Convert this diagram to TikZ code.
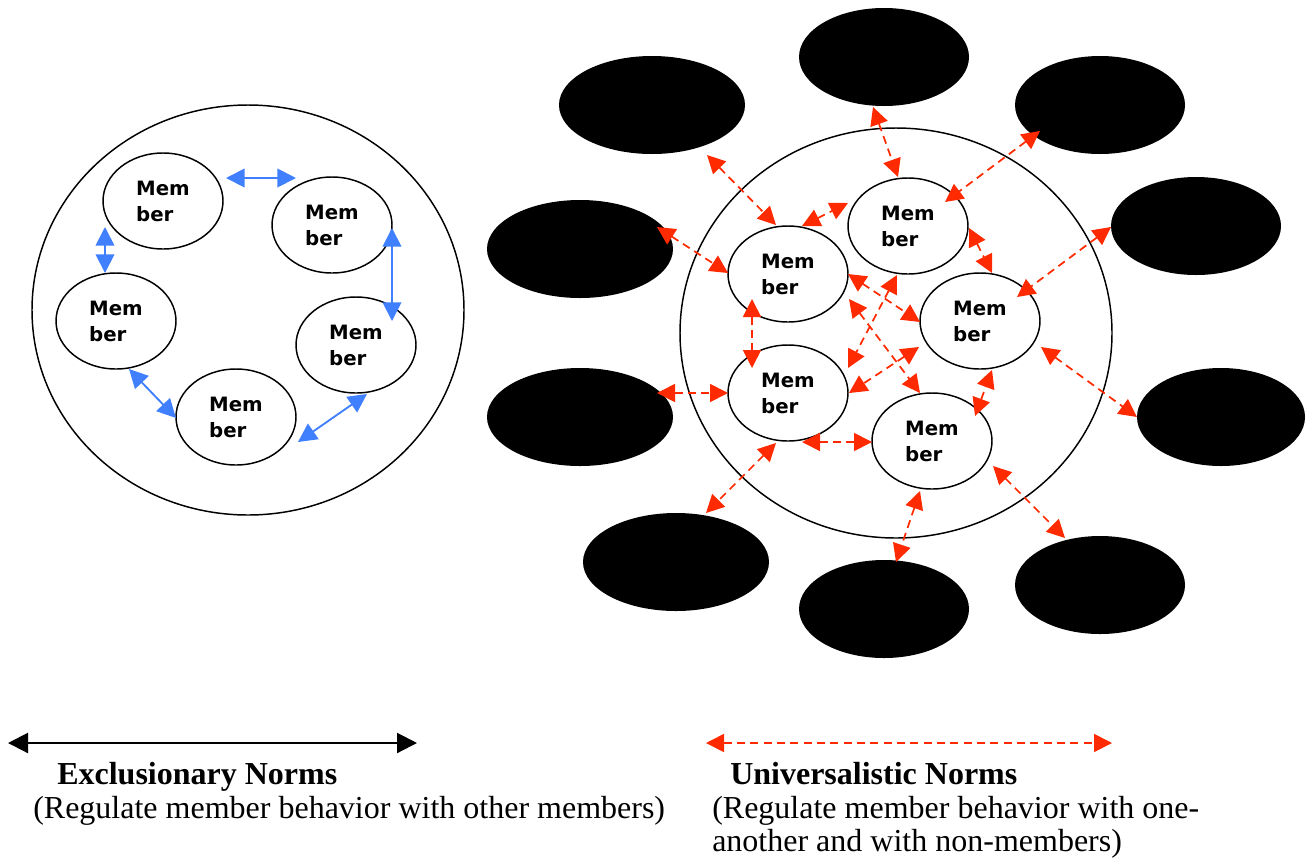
\documentclass[tikz,border=0pt]{standalone}
\usepackage{fontspec}
\setmainfont{Liberation Serif}
\newfontfamily\memfont{DejaVu Sans}
\usetikzlibrary{arrows.meta,calc,shapes.geometric}
\definecolor{arrred}{RGB}{255,42,0}
\definecolor{arrblue}{RGB}{64,128,255}
\begin{document}
\begin{tikzpicture}[x=0.75pt,y=-0.75pt,
  member/.style={ellipse,draw,line width=1.1pt,fill=white,minimum width=90pt,minimum height=72pt,
    inner sep=0pt,align=left,font=\memfont\bfseries\fontsize{14.8}{19.5}\selectfont},
  outsider/.style={ellipse,fill=black,inner sep=0pt,minimum width=#1,minimum height=73.5pt},
  groupring/.style={ellipse,draw,line width=1.1pt,minimum width=324pt,minimum height=307.5pt,inner sep=0pt},
  bluearr/.style={arrblue,line width=1.4pt,{Triangle[length=14pt,width=14pt]}-{Triangle[length=14pt,width=14pt]}},
  redarr/.style={arrred,line width=1.3pt,dash pattern=on 6pt off 4pt,{Triangle[length=13.5pt,width=13.5pt]}-{Triangle[length=13.5pt,width=13.5pt]}},
  blackarr/.style={black,line width=1.6pt,{Triangle[length=15pt,width=15pt]}-{Triangle[length=15pt,width=15pt]}},
  legtitle/.style={anchor=base west,inner sep=0pt,font=\bfseries\fontsize{24}{26}\selectfont},
  legtext/.style={anchor=base west,inner sep=0pt,font=\fontsize{24}{26}\selectfont}
]
\useasboundingbox (0,0) rectangle (1313,861);

% ---------- left group ----------
\node[groupring] (LG) at (248,310) {};
\node[member] (M1) at (163,201) {Mem\\ber};
\node[member] (M2) at (332,225) {Mem\\ber};
\node[member] (M3) at (116,321) {Mem\\ber};
\node[member] (M4) at (356,345) {Mem\\ber};
\node[member] (M5) at (236,417) {Mem\\ber};

\draw[bluearr] ($(M1)+(63,-23)$) -- ($(M2)+(-36,-47)$);
\draw[bluearr] ($(M2)+(60,3)$) -- ($(M4)+(36,-24)$);
\draw[bluearr] ($(M1)+(-58,26)$) -- ($(M3)+(-11,-48)$);
\draw[bluearr] ($(M3)+(13,48)$) -- ($(M5)+(-60,1)$);
\draw[bluearr] ($(M5)+(62,25)$) -- ($(M4)+(11,49)$);

% ---------- right group ----------
\node[groupring] (RG) at (896,333) {};
\node[outsider=139.5pt] (A) at (652,105) {};
\node[outsider=127.5pt] (T) at (884,57) {};
\node[outsider=127.5pt] (C) at (1100,105) {};
\node[outsider=139.5pt] (B) at (580,249) {};
\node[outsider=127.5pt] (D) at (1196,226) {};
\node[outsider=139.5pt] (E) at (580,417) {};
\node[outsider=126pt] (H) at (1221,417) {};
\node[outsider=139.5pt] (F) at (676,562) {};
\node[outsider=127.5pt] (G) at (884,609) {};
\node[outsider=127.5pt] (I) at (1100,585) {};

\node[member] (R1) at (788,274) {Mem\\ber};
\node[member] (R2) at (908,226) {Mem\\ber};
\node[member] (R3) at (980,321) {Mem\\ber};
\node[member] (R4) at (788,393) {Mem\\ber};
\node[member] (R5) at (932,441) {Mem\\ber};

\draw[redarr] ($(A)+(55,50)$) -- ($(R1)+(-12,-49)$);
\draw[redarr] ($(B)+(77,-22)$) -- ($(R1)+(-60,-1)$);
\draw[redarr] ($(T)+(-11,50)$) -- ($(R2)+(-10,-49)$);
\draw[redarr] ($(R1)+(14,-48)$) -- ($(R2)+(-60,-23)$);
\draw[redarr] ($(C)+(-60,26)$) -- ($(R2)+(37,-24)$);
\draw[redarr] ($(R2)+(61,2)$) -- ($(R3)+(12,-48)$);
\draw[redarr] ($(D)+(-85,1)$) -- ($(R3)+(37,-24)$);
\draw[redarr] ($(E)+(77,-24)$) -- ($(R4)+(-60,0)$);
\draw[redarr] ($(R1)+(-36,25)$) -- ($(R4)+(-36,-25)$);
\draw[redarr] ($(R1)+(60,0)$) -- ($(R3)+(-60,1)$);
\draw[redarr] ($(R2)+(-11,49)$) -- ($(R4)+(60,-25)$);
\draw[redarr] ($(R1)+(61,25)$) -- ($(R5)+(-12,-48)$);
\draw[redarr] ($(R3)+(-61,26)$) -- ($(R4)+(61,0)$);
\draw[redarr] ($(R4)+(14,49)$) -- ($(R5)+(-60,1)$);
\draw[redarr] ($(R5)+(43,-25)$) -- ($(R3)+(12,49)$);
\draw[redarr] ($(R4)+(-12,50)$) -- ($(F)+(30,-49)$);
\draw[redarr] ($(R5)+(-12,50)$) -- ($(G)+(12,-47)$);
\draw[redarr] ($(R5)+(61,25)$) -- ($(I)+(-35,-47)$);
\draw[redarr] ($(R3)+(61,26)$) -- ($(H)+(-84,0)$);

% ---------- legend ----------
\coordinate (exL) at (8,743);
\coordinate (exR) at (417,743);
\draw[blackarr] (exL) -- (exR);
\node[legtitle] (exT) at (57,784) {Exclusionary Norms};
\node[legtext] (exS) at (33,818) {(Regulate member behavior with other members)};

\coordinate (unL) at (706,743);
\coordinate (unR) at (1112,743);
\draw[redarr] (unL) -- (unR);
\node[legtitle] (unT) at (730,784) {Universalistic Norms};
\node[legtext] (unS1) at (712,818) {(Regulate member behavior with one-};
\node[legtext] (unS2) at (712,851) {another and with non-members)};
\end{tikzpicture}
\end{document}
